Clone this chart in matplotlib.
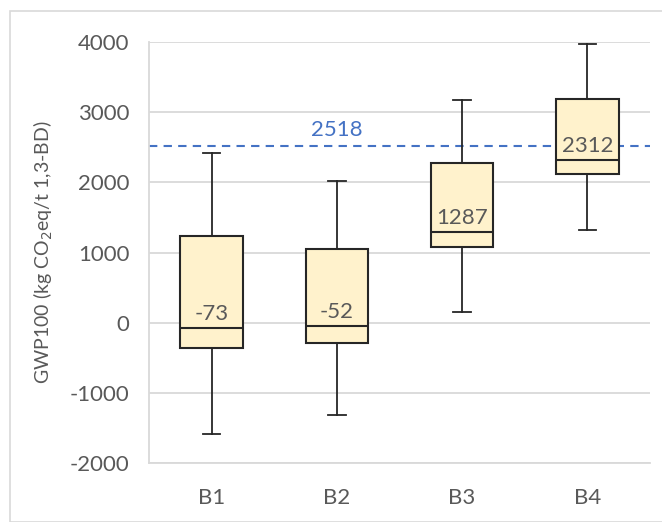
import matplotlib.pyplot as plt
from matplotlib.patches import Rectangle

plt.rcParams['font.family'] = ['Lato', 'DejaVu Sans']
plt.rcParams['axes.unicode_minus'] = False

# values
labels = ['B1', 'B2', 'B3', 'B4']
whisker_low = [-1580, -1320, 150, 1325]
q1 = [-355, -290, 1078, 2123]
median = [-73, -52, 1287, 2312]
q3 = [1240, 1050, 2275, 3187]
whisker_high = [2420, 2020, 3167, 3970]
reference = 2518

stats = []
for i in range(len(labels)):
    stats.append(dict(label=labels[i], whislo=whisker_low[i], q1=q1[i], med=median[i],
                      q3=q3[i], whishi=whisker_high[i], fliers=[]))

fig = plt.figure(figsize=(6.62, 5.22), dpi=100)
ax = fig.add_axes([149 / 662, 1 - 463 / 522, (650 - 149) / 662, (463 - 42) / 522])

# light frame round the whole chart area
fig.patches.append(Rectangle((10 / 662, 0), 1.0, 1 - 11 / 522, transform=fig.transFigure,
                             fill=False, edgecolor='#d9d9d9', linewidth=1.2))

ax.bxp(stats, positions=range(1, 5), widths=0.5, patch_artist=True, showfliers=False,
       boxprops=dict(facecolor='#fff2cc', edgecolor='#262626', linewidth=1.5),
       medianprops=dict(color='#262626', linewidth=1.5),
       whiskerprops=dict(color='#262626', linewidth=1.3),
       capprops=dict(color='#262626', linewidth=1.3), capwidths=0.14, zorder=3)

for i, m in enumerate(median):
    ax.annotate(str(m), (i + 1, m), xytext=(0, 3), textcoords='offset points',
                ha='center', va='bottom', fontsize=16, color='#595959', zorder=4)

ax.axhline(reference, color='#4472c4', linestyle=(0, (4, 3)), linewidth=1.5, zorder=2)
ax.text(2, reference + 90, str(reference), ha='center', va='bottom', fontsize=16,
        color='#4472c4')

ax.set_xlim(0.5, 4.5)
ax.set_ylim(-2000, 4000)
ax.set_yticks(range(-2000, 4001, 1000))
ax.yaxis.grid(True, color='#d9d9d9', linewidth=1.3)
ax.set_axisbelow(True)
for side in ['top', 'right']:
    ax.spines[side].set_visible(False)
ax.spines['left'].set_color('#d9d9d9')
ax.spines['bottom'].set_color('#d9d9d9')
ax.spines['left'].set_linewidth(1.3)
ax.spines['bottom'].set_linewidth(1.3)
ax.tick_params(axis='both', length=0, labelsize=16, labelcolor='#595959')
ax.tick_params(axis='y', pad=14)
ax.tick_params(axis='x', pad=18)
ax.set_ylabel('GWP100 (kg CO$_2$eq/t 1,3-BD)', fontsize=14, color='#595959', labelpad=11)

fig.savefig('out.png', dpi=100)
